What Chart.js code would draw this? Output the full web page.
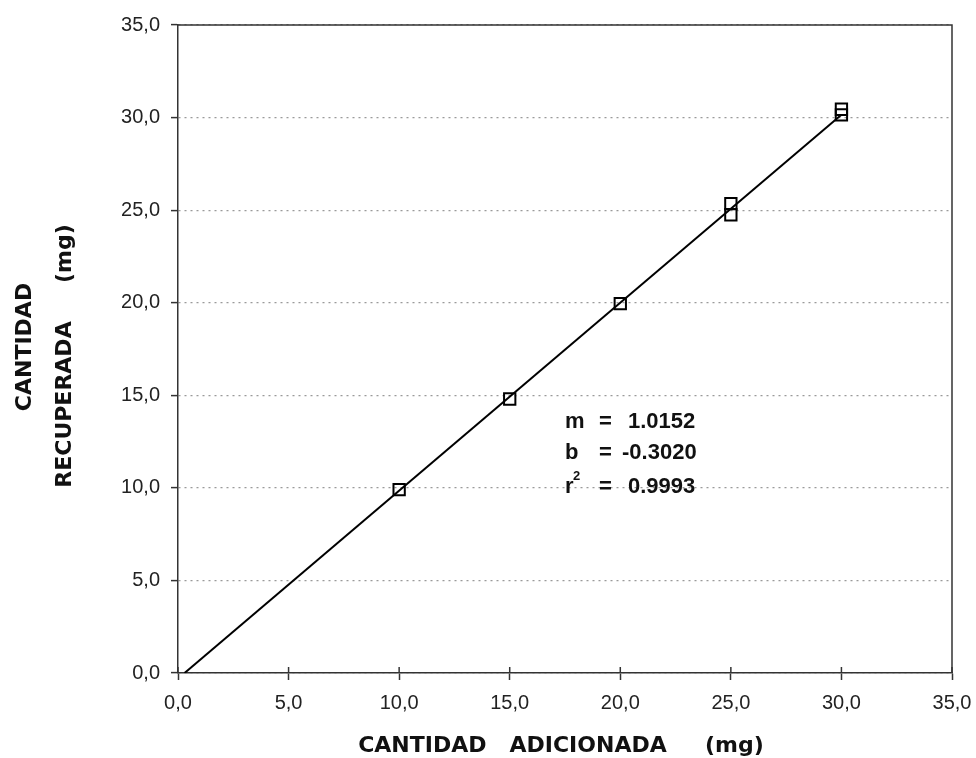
<!DOCTYPE html>
<html>
<head>
<meta charset="utf-8">
<script src="https://cdn.jsdelivr.net/npm/chart.js@4.4.1/dist/chart.umd.min.js"></script>
<style>
html,body{margin:0;padding:0;background:#fff;}
#wrap{width:976px;height:758px;position:relative;}
</style>
</head>
<body>
<div id="wrap"><canvas id="c" width="976" height="758"></canvas></div>
<script>
// ---- data ----
const addedMg = [10, 15, 20, 25, 25, 30, 30];
const recoveredMg = [9.9, 14.8, 19.95, 25.35, 24.75, 30.45, 30.15];
const slope = 1.0152;
const intercept = -0.3020;
const rSquared = 0.9993;
const tickValues = [0, 5, 10, 15, 20, 25, 30, 35];
const xTitle = 'CANTIDAD   ADICIONADA     (mg)';
const yTitleLines = ['CANTIDAD', 'RECUPERADA     (mg)'];

const fmt = v => v.toFixed(1).replace('.', ',');
const lineStartX = -intercept / slope;
const lineEndX = 30;
const fitLine = [
  {x: lineStartX, y: slope * lineStartX + intercept},
  {x: lineEndX, y: slope * lineEndX + intercept}
];
const points = addedMg.map((x, i) => ({x: x, y: recoveredMg[i]}));
const SANS = 'Arial, "Liberation Sans", sans-serif';

const extras = {
  id: 'extras',
  afterDraw(chart) {
    const {ctx, chartArea: a, scales} = chart;
    ctx.save();
    ctx.strokeStyle = '#333';
    ctx.lineWidth = 1.5;
    ctx.beginPath();
    ctx.moveTo(a.left, a.top);
    ctx.lineTo(a.right, a.top);
    ctx.lineTo(a.right, a.bottom);
    ctx.stroke();
    tickValues.forEach(v => {
      const px = scales.x.getPixelForValue(v);
      ctx.beginPath();
      ctx.moveTo(px, a.bottom);
      ctx.lineTo(px, a.bottom - 6);
      ctx.stroke();
    });
    ctx.fillStyle = '#111';
    ctx.font = 'bold 22px "DejaVu Sans"';
    ctx.textAlign = 'center';
    ctx.textBaseline = 'alphabetic';
    ctx.fillText(xTitle, 561, 752);
    ctx.save();
    ctx.translate(31, 347);
    ctx.rotate(-Math.PI / 2);
    ctx.fillText(yTitleLines[0], 0, 0);
    ctx.restore();
    ctx.save();
    ctx.translate(71, 356);
    ctx.rotate(-Math.PI / 2);
    ctx.fillText(yTitleLines[1], 0, 0);
    ctx.restore();
    ctx.textAlign = 'left';
    ctx.font = 'bold 22px ' + SANS;
    ctx.fillText('m', 565, 428);
    ctx.fillText('=', 599, 428);
    ctx.fillText(slope.toFixed(4), 628, 428);
    ctx.fillText('b', 565, 459);
    ctx.fillText('=', 599, 459);
    ctx.fillText(intercept.toFixed(4), 622, 459);
    ctx.fillText('r', 565, 493);
    ctx.font = 'bold 13px ' + SANS;
    ctx.fillText('2', 573, 480);
    ctx.font = 'bold 22px ' + SANS;
    ctx.fillText('=', 599, 493);
    ctx.fillText(rSquared.toFixed(4), 628, 493);
    ctx.restore();
  }
};

new Chart(document.getElementById('c'), {
  type: 'scatter',
  data: {
    datasets: [
      {
        type: 'line',
        data: fitLine,
        borderColor: '#000',
        borderWidth: 2,
        pointRadius: 0,
        fill: false,
        order: 2
      },
      {
        data: points,
        pointStyle: 'rect',
        pointRadius: 8,
        borderColor: '#000',
        borderWidth: 2,
        backgroundColor: 'rgba(255,255,255,0)',
        order: 1
      }
    ]
  },
  options: {
    responsive: false,
    animation: false,
    devicePixelRatio: 1,
    layout: {padding: {top: 25, right: 0, left: 0, bottom: 0}},
    plugins: {legend: {display: false}, tooltip: {enabled: false}},
    scales: {
      x: {
        type: 'linear',
        min: 0, max: 35,
        afterFit: s => { s.height = 85; s.paddingRight = 24; s.paddingLeft = 0; },
        afterBuildTicks: s => { s.ticks = tickValues.map(v => ({value: v})); },
        ticks: {
          callback: v => fmt(v),
          font: {family: SANS, size: 20},
          color: '#222',
          padding: 11,
          maxRotation: 0
        },
        grid: {drawOnChartArea: false, drawTicks: true, tickLength: 7, tickColor: '#333', tickWidth: 1.5},
        border: {color: '#333', width: 1.5}
      },
      y: {
        type: 'linear',
        min: 0, max: 35,
        afterFit: s => { s.width = 178; },
        afterBuildTicks: s => { s.ticks = tickValues.map(v => ({value: v})); },
        ticks: {
          callback: v => fmt(v),
          font: {family: SANS, size: 20},
          color: '#222',
          padding: 11
        },
        grid: {color: '#9a9a9a', lineWidth: 1.2, drawTicks: true, tickLength: 7, tickColor: '#333', tickWidth: 1.5},
        border: {color: '#333', width: 1.5, dash: [2, 4]}
      }
    }
  },
  plugins: [extras]
});
</script>
</body>
</html>
